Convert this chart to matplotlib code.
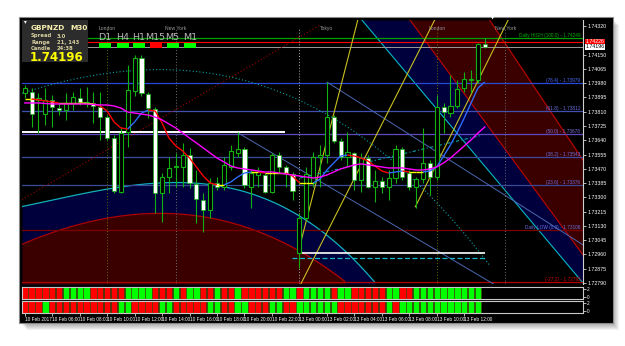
import matplotlib.pyplot as plt
import numpy as np
from matplotlib.collections import LineCollection
from matplotlib.patches import Rectangle

W, H = 625, 346
SMALL = ["Liberation Sans Narrow", "Liberation Sans", "DejaVu Sans"]

# ---- candles (GBPNZD M30, 10 Feb 04:00 -> 13 Feb 13:30) ----
opens = [1.73921, 1.73927, 1.73880, 1.73796, 1.73880, 1.73832, 1.73820, 1.73862, 1.73891, 1.73862,
         1.73862, 1.73838, 1.73778, 1.73653, 1.73332, 1.73689, 1.73933, 1.74130, 1.73915, 1.73826,
         1.73326, 1.73421, 1.73481, 1.73481, 1.73552, 1.73380, 1.73284, 1.73225, 1.73386, 1.73362,
         1.73481, 1.73564, 1.73588, 1.73362, 1.73433, 1.73433, 1.73332, 1.73552, 1.73481, 1.73439,
         1.72969, 1.73177, 1.73386, 1.73540, 1.73552, 1.73778, 1.73636, 1.73540, 1.73564, 1.73403,
         1.73534, 1.73362, 1.73397, 1.73362, 1.73415, 1.73588, 1.73445, 1.73362, 1.73409, 1.73505,
         1.73421, 1.73838, 1.73802, 1.73844, 1.73951, 1.73999, 1.73999, 1.74213]
highs = [1.73969, 1.73951, 1.73921, 1.73951, 1.73909, 1.73862, 1.73921, 1.73927, 1.73951, 1.73957,
         1.73927, 1.73927, 1.73790, 1.73671, 1.73719, 1.74088, 1.74147, 1.74147, 1.73927, 1.73838,
         1.73445, 1.73540, 1.73564, 1.73624, 1.73594, 1.73463, 1.73326, 1.73415, 1.73421, 1.73540,
         1.73612, 1.73689, 1.73600, 1.73463, 1.73481, 1.73445, 1.73564, 1.73570, 1.73493, 1.73451,
         1.73207, 1.73481, 1.73570, 1.73612, 1.73987, 1.73790, 1.73653, 1.73689, 1.73570, 1.73564,
         1.73552, 1.73463, 1.73421, 1.73463, 1.73612, 1.73600, 1.73463, 1.73421, 1.73713, 1.73522,
         1.73909, 1.73862, 1.74028, 1.73999, 1.74046, 1.74058, 1.74219, 1.74249]
lows = [1.73891, 1.73719, 1.73683, 1.73731, 1.73719, 1.73790, 1.73761, 1.73820, 1.73850, 1.73838,
        1.73743, 1.73642, 1.73642, 1.73326, 1.73326, 1.73600, 1.73903, 1.73903, 1.73772, 1.73207,
        1.73153, 1.73326, 1.73362, 1.73362, 1.73356, 1.73148, 1.73094, 1.73177, 1.73344, 1.73344,
        1.73463, 1.73540, 1.73356, 1.73237, 1.73362, 1.73326, 1.73326, 1.73445, 1.73362, 1.73284,
        1.72880, 1.73165, 1.73362, 1.73362, 1.73505, 1.73624, 1.73522, 1.73481, 1.73344, 1.73332,
        1.73356, 1.73272, 1.73326, 1.73284, 1.73386, 1.73403, 1.73344, 1.73237, 1.73386, 1.73314,
        1.73403, 1.73683, 1.73778, 1.73832, 1.73927, 1.73921, 1.73981, 1.74189]
closes = [1.73951, 1.73796, 1.73891, 1.73880, 1.73838, 1.73820, 1.73862, 1.73897, 1.73868, 1.73868,
          1.73844, 1.73778, 1.73653, 1.73338, 1.73683, 1.73939, 1.74130, 1.73921, 1.73832, 1.73326,
          1.73421, 1.73475, 1.73487, 1.73552, 1.73386, 1.73290, 1.73225, 1.73386, 1.73362, 1.73493,
          1.73576, 1.73588, 1.73374, 1.73445, 1.73451, 1.73332, 1.73552, 1.73481, 1.73445, 1.73338,
          1.73177, 1.73439, 1.73540, 1.73552, 1.73778, 1.73636, 1.73540, 1.73570, 1.73403, 1.73534,
          1.73362, 1.73397, 1.73362, 1.73415, 1.73588, 1.73421, 1.73362, 1.73409, 1.73505, 1.73421,
          1.73838, 1.73808, 1.73844, 1.73945, 1.74005, 1.74002, 1.74213, 1.74196]

# fast (red/yellow/blue) and slow (magenta) moving averages as drawn
fast_ma = [1.73886, 1.73886, 1.73880, 1.73874, 1.73868, 1.73862, 1.73862, 1.73862, 1.73862, 1.73859,
           1.73856, 1.73844, 1.73814, 1.73749, 1.73713, 1.73707, 1.73749, 1.73802, 1.73820, 1.73814,
           1.73743, 1.73653, 1.73606, 1.73576, 1.73534, 1.73481, 1.73427, 1.73386, 1.73374, 1.73374,
           1.73391, 1.73421, 1.73445, 1.73451, 1.73451, 1.73445, 1.73445, 1.73445, 1.73445, 1.73427,
           1.73386, 1.73386, 1.73386, 1.73409, 1.73463, 1.73505, 1.73546, 1.73552, 1.73546, 1.73534,
           1.73516, 1.73487, 1.73457, 1.73445, 1.73451, 1.73457, 1.73451, 1.73451, 1.73451, 1.73457,
           1.73481, 1.73546, 1.73612, 1.73689, 1.73772, 1.73862, 1.73951, 1.73987]
slow_ma = [1.73862, 1.73862, 1.73862, 1.73859, 1.73856, 1.73856, 1.73856, 1.73856, 1.73856, 1.73856,
           1.73853, 1.73850, 1.73850, 1.73844, 1.73832, 1.73808, 1.73802, 1.73796, 1.73790, 1.73778,
           1.73761, 1.73737, 1.73713, 1.73683, 1.73653, 1.73624, 1.73594, 1.73564, 1.73534, 1.73511,
           1.73487, 1.73475, 1.73469, 1.73463, 1.73457, 1.73451, 1.73451, 1.73445, 1.73439, 1.73433,
           1.73427, 1.73421, 1.73415, 1.73421, 1.73433, 1.73451, 1.73469, 1.73481, 1.73493, 1.73499,
           1.73493, 1.73487, 1.73481, 1.73475, 1.73475, 1.73475, 1.73469, 1.73463, 1.73463, 1.73469,
           1.73481, 1.73505, 1.73534, 1.73570, 1.73606, 1.73642, 1.73683, 1.73719]

# sub-window trend histograms (g = up, r = down)
panel1 = list("rrrrrrggggrrrrrggggrrrgrggrrgrrgrrrrrrggrggggrggrrrrrggrrgggggggggg")
panel2 = list("rrrgrrrrrrrrrrggrrrrggrrrrrggrrggrrrggrrggggggrrrrrrrgrgggggggggggg")

# fibonacci / daily levels on the right
fib_levels = [1.74249, 1.73979, 1.73812, 1.73678, 1.73543, 1.73376, 1.73106, 1.72795]
fib_labels = ["Daily HIGH (100.0) - 1.74249", "(76.4) - 1.73979", "(61.8) - 1.73812", "(50.0) - 1.73678",
              "(38.2) - 1.73543", "(23.6) - 1.73376", "Daily LOW (0.0) - 1.73106", "(-27.2) - 1.72795"]
fib_colors = ["#00a000", "#2848d8", "#4050b0", "#6048c0", "#3c4aa0", "#384a98", "#7a0000", "#b00000"]
fib_text = ["#00b000", "#4a6aff", "#6a70e0", "#7a70e0", "#6a70e0", "#6a70e0", "#6a70e0", "#d00000"]

bid, ask = 1.74196, 1.74226
price_ticks = [1.74320, 1.74150, 1.74065, 1.73980, 1.73895, 1.73810, 1.73725, 1.73640, 1.73555,
               1.73470, 1.73385, 1.73300, 1.73215, 1.73130, 1.73045, 1.72960, 1.72875, 1.72790]

time_bars = list(range(0, 68, 4))
time_labels = ["10 Feb 2017", "10 Feb 06:00", "10 Feb 08:00", "10 Feb 10:00", "10 Feb 12:00",
               "10 Feb 14:00", "10 Feb 16:00", "10 Feb 18:00", "10 Feb 20:00", "10 Feb 22:00",
               "13 Feb 00:00", "13 Feb 02:00", "13 Feb 04:00", "13 Feb 06:00", "13 Feb 08:00",
               "13 Feb 10:00", "13 Feb 12:00"]

sessions = ["London", "New York", "Tokyo", "London", "New York"]
session_bars = [12, 22, 44, 60, 70]
session_lines = [12, 22, 40, 60, 70]
session_line_colors = ["#6a6a00", "#707070", "#b0b0b0", "#6a6a00", "#707070"]

# drawn objects: (bar, price) anchors
cyan_chan = [(49.1, 1.74356), (81.3, 1.72790)]
red_low = [(56.1, 1.74356), (81.3, 1.72957)]
red_up = [(67.7, 1.74356), (81.3, 1.73522)]
steel_lines = [[(44.0, 1.73987), (81.3, 1.73017)], [(31.1, 1.73683), (64.8, 1.72868)]]
yellow_lines = [[(39.8, 1.72969), (48.5, 1.74356)], [(40.2, 1.72784), (59.7, 1.74356)],
                [(56.8, 1.73237), (70.4, 1.74356)]]
red_dotted = [(0.0, 1.73296), (43.0, 1.74326)]
teal_arc = [(-0.4, 1.73909), (8.05, 1.74028), (15.3, 1.74064), (25.5, 1.74028), (38.6, 1.73897),
            (48.8, 1.73671), (59.0, 1.73326), (67.7, 1.72886)]
teal_dash = [(40.1, 1.73415), (66.7, 1.73671)]
cyan_arc = [(-0.4, 1.73243), (15.3, 1.73380), (22.2, 1.73380), (35.7, 1.73267), (43.0, 1.73124),
            (49.2, 1.72880), (51.0, 1.72784)]
red_arc = [(-0.4, 1.73016), (9.1, 1.73165), (21.2, 1.73189), (28.4, 1.73165), (37.2, 1.73046),
           (44.9, 1.72868), (46.6, 1.72784)]
white_left = (1.73689, -0.4, 37.9)
white_right = (1.72969, 39.8, 67.0)
cyan_dash_right = (1.72939, 38.9, 67.0)

XMIN, XMAX = -0.4, 81.3
YMIN, YMAX = 1.72784, 1.74356


def rect(x0, y0, x1, y1):
    return [x0 / W, 1 - y1 / H, (x1 - x0) / W, (y1 - y0) / H]


def line_fn(a):
    (x0, y0), (x1, y1) = a
    return lambda x: y0 + (y1 - y0) * (np.asarray(x) - x0) / (x1 - x0)


fig = plt.figure(figsize=(W / 100, H / 100), dpi=100, facecolor="white")

# background: shadow + black frame
bg = fig.add_axes([0, 0, 1, 1])
bg.set_xlim(0, W)
bg.set_ylim(H, 0)
bg.axis("off")
for k in range(7):
    bg.add_patch(Rectangle((21 + k, 19 + k), 592, 305, color="black", alpha=0.05, lw=0))
bg.add_patch(Rectangle((19, 17), 594, 306, facecolor="black", edgecolor="#8a8a8a", lw=0.8))

ax = fig.add_axes(rect(22, 20, 583, 284))
ax.set_facecolor("black")
ax.set_xlim(XMIN, XMAX)
ax.set_ylim(YMIN, YMAX)

xx = np.linspace(XMIN, XMAX, 600)

# channel fills
c_cy, c_lo, c_up = line_fn(cyan_chan), line_fn(red_low), line_fn(red_up)
ax.fill_between(xx, np.clip(c_cy(xx), YMIN, YMAX), np.clip(c_lo(xx), YMIN, YMAX), color="#00003c", lw=0, zorder=0)
ax.fill_between(xx, np.clip(c_lo(xx), YMIN, YMAX), np.clip(c_up(xx), YMIN, YMAX), color="#3a0000", lw=0, zorder=0)

# lower-left arcs
ca = np.array(cyan_arc)
xa = np.linspace(ca[0, 0], ca[-1, 0], 200)
ya = np.polyval(np.polyfit(ca[:, 0], ca[:, 1], 3), xa)
ax.fill_between(xa, YMIN, ya, color="#00003c", lw=0, zorder=0.5)
ax.plot(xa, ya, color="#10b0c0", lw=0.9, zorder=1)
ra = np.array(red_arc)
xr = np.linspace(ra[0, 0], ra[-1, 0], 200)
yr = np.polyval(np.polyfit(ra[:, 0], ra[:, 1], 3), xr)
ax.fill_between(xr, YMIN, yr, color="#3a0000", lw=0, zorder=0.6)
ax.plot(xr, yr, color="#b00000", lw=0.9, zorder=1)

for fn, col in [(c_cy, "#00b8c8"), (c_lo, "#c00000"), (c_up, "#c00000")]:
    ax.plot(xx, fn(xx), color=col, lw=0.8, zorder=1)

# fib levels
for lv, lab, lc, tc in zip(fib_levels, fib_labels, fib_colors, fib_text):
    ax.axhline(lv, color=lc, lw=0.9, zorder=1)
    ax.text(80.9, lv, lab, color=tc, fontsize=3.4, family=SMALL, ha="right", va="bottom", zorder=5)

ax.axhline(ask, color="#ff0000", lw=0.8, zorder=1)
ax.axhline(bid, color="#9a9a9a", lw=0.7, zorder=1)

# other drawn objects
ta = np.array(teal_arc)
xt = np.linspace(ta[0, 0], ta[-1, 0], 300)
ax.plot(xt, np.polyval(np.polyfit(ta[:, 0], ta[:, 1], 3), xt), color="#0aa0a8", lw=0.8, ls=(0, (1, 2)), zorder=1)
for seg in steel_lines:
    f = line_fn(seg)
    xs = xx[xx >= seg[0][0]]
    ax.plot(xs, f(xs), color="#4a68b0", lw=0.7, zorder=1)
for seg in yellow_lines:
    f = line_fn(seg)
    xs = xx[xx >= seg[0][0]]
    ax.plot(xs, f(xs), color="#c8c020", lw=0.8, zorder=1)
f = line_fn(red_dotted)
xs = xx[xx <= red_dotted[1][0]]
ax.plot(xs, f(xs), color="#a00000", lw=0.8, ls=(0, (1, 2)), zorder=1)
f = line_fn(teal_dash)
xs = xx[(xx >= teal_dash[0][0]) & (xx <= teal_dash[1][0])]
ax.plot(xs, f(xs), color="#0aa0a8", lw=0.8, ls=(0, (3, 2, 1, 2)), zorder=1)

ax.hlines(white_left[0], white_left[1], white_left[2], color="white", lw=1.4, zorder=2)
ax.hlines(white_right[0], white_right[1], white_right[2], color="white", lw=1.2, zorder=2)
ax.hlines(cyan_dash_right[0], cyan_dash_right[1], cyan_dash_right[2], color="#10b8c8", lw=0.9,
          linestyles=(0, (4, 2)), zorder=2)

for b, c in zip(session_lines, session_line_colors):
    ax.axvline(b, ymax=0.97, color=c, lw=0.7, ls=(0, (1, 2)), zorder=1)

# candles
n = len(opens)
idx = np.arange(n)
o, h, l, c = map(np.array, (opens, highs, lows, closes))
up = c >= o
ax.vlines(idx, l, h, color="#12b012", lw=0.8, zorder=3)
body_lo = np.minimum(o, c)
body_h = np.maximum(np.abs(c - o), 0.00003)
ax.bar(idx[up], body_h[up], bottom=body_lo[up], width=0.6, facecolor="black", edgecolor="#12b012", lw=0.8, zorder=4)
ax.bar(idx[~up], body_h[~up], bottom=body_lo[~up], width=0.6, facecolor="white", edgecolor="#12b012", lw=0.5, zorder=4)

# moving averages
fm = np.array(fast_ma)
d = np.diff(fm)
cols = ["#2f6bff" if v > 0.00003 else ("#ff0000" if v < -0.00003 else "#ffff00") for v in d]
segs = [[(i, fm[i]), (i + 1, fm[i + 1])] for i in range(n - 1)]
ax.add_collection(LineCollection(segs, colors=cols, lw=1.0, zorder=5))
ax.plot(idx, slow_ma, color="#ff00ff", lw=1.0, zorder=5)

# right price axis
ax.yaxis.tick_right()
ax.set_yticks(price_ticks)
ax.set_yticklabels([f"{p:.5f}" for p in price_ticks], family=SMALL)
ax.tick_params(axis="y", colors="white", labelsize=3.8, length=2, width=0.5, pad=1)
ax.set_xticks([])
for s in ["top", "left", "bottom"]:
    ax.spines[s].set_visible(False)
ax.spines["right"].set_color("#d0d0d0")
ax.spines["right"].set_linewidth(0.8)

for val, fc, tc in [(ask, "#ff0000", "white"), (bid, "white", "black")]:
    ax.text(1.004, val, f"{val:.5f}", transform=ax.get_yaxis_transform(), fontsize=3.8, family=SMALL,
            color=tc, va="center", ha="left", bbox=dict(boxstyle="square,pad=0.12", fc=fc, ec="none"),
            zorder=10, clip_on=False)

# session labels
for lab, b in zip(sessions, session_bars):
    ax.text(b, 1.74305, lab, color="#9a9a9a", fontsize=3.6, family=SMALL, ha="center", va="center", zorder=6)

# indicator panels
for k, (vals, top, bot) in enumerate([(panel1, 287, 299), (panel2, 301, 313)]):
    p = fig.add_axes(rect(22, top, 583, bot))
    p.set_facecolor("black")
    p.set_xlim(XMIN, XMAX)
    p.set_ylim(0, 2)
    p.bar(idx[:len(vals)], 2, width=0.92, color=["#00ff00" if v == "g" else "#ff0000" for v in vals],
          edgecolor="#4a4a10", lw=0.5)
    p.yaxis.tick_right()
    p.set_yticks([0.3, 1.7])
    p.set_yticklabels(["0", "2"], family=SMALL)
    p.tick_params(axis="y", colors="white", labelsize=3.4, length=2, width=0.5, pad=1)
    for s in p.spines.values():
        s.set_color("#c8c8c8")
        s.set_linewidth(0.8)
    if k == 1:
        p.set_xticks(time_bars)
        p.set_xticklabels(time_labels, ha="left", family=SMALL)
        p.tick_params(axis="x", colors="white", labelsize=3.4, length=2, width=0.5, pad=1)
    else:
        p.set_xticks([])

# info panel (top left)
fig.add_artist(Rectangle((22 / W, 1 - 62 / H), 66 / W, 42 / H, facecolor="#2c2c2c", edgecolor="none",
                         transform=fig.transFigure, zorder=20))


def ftxt(x, y, s, **kw):
    fig.text(x / W, 1 - y / H, s, zorder=21, **kw)


ftxt(24, 22, "\u25be", color="white", fontsize=4, va="center")
ftxt(31, 28, "GBPNZD", color="#f8f0b0", fontsize=5.3, fontweight="bold", va="center")
ftxt(70, 28, "M30", color="#f8f0b0", fontsize=5.3, fontweight="bold", va="center")
for yy, a, b in [(36, "Spread", "3.0"), (42.5, "Range", "21, 143"), (49, "Candle", "24:38")]:
    ftxt(31, yy, a, color="#d8d0a0", fontsize=3.8, fontweight="bold", va="center")
    ftxt(57, yy, b, color="#d8d0a0", fontsize=3.8, fontweight="bold", va="center")
ftxt(30, 57.5, "1.74196", color="#ffff00", fontsize=8.5, fontweight="bold", va="center")

tf_names = ["D1", "H4", "H1", "M15", "M5", "M1"]
tf_state = ["g", "g", "g", "r", "g", "g"]
tf_x = [105, 122.5, 139, 155.5, 172.5, 190]
for name, st, x in zip(tf_names, tf_state, tf_x):
    ftxt(x, 37, name, color="#b8b8b8", fontsize=6.8, ha="center", va="center")
    fig.add_artist(Rectangle(((x - 6) / W, 1 - 47.5 / H), 12 / W, 4.8 / H,
                             facecolor="#00ff00" if st == "g" else "#ff0000", edgecolor="none",
                             transform=fig.transFigure, zorder=21))

ftxt(493, 18.5, "\u25bc", color="white", fontsize=3, ha="center", va="center")

fig.savefig("out.png", dpi=100, facecolor="white")
